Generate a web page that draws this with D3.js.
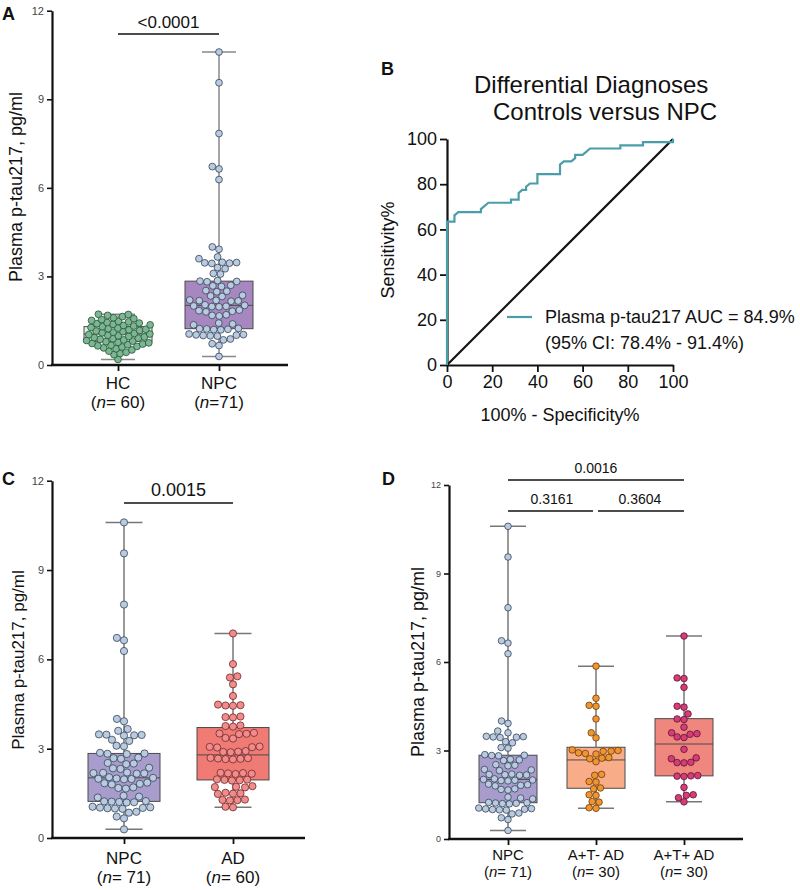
<!DOCTYPE html>
<html><head><meta charset="utf-8">
<script src="https://cdn.jsdelivr.net/npm/d3@7"></script>
<style>body{margin:0;background:#fff;} svg{font-family:Arial,"Liberation Sans",sans-serif;}</style>
</head><body><svg id="c" width="800" height="890"></svg>
<script>
// ---------------- data ----------------
const hcValues = [0.19,0.35,0.39,0.43,0.47,0.51,0.55,0.58,
  0.61,0.63,0.65,0.67,0.69,0.71,0.73,0.75,0.77,0.79,0.81,0.83,0.85,0.87,0.89,0.91,
  0.93,0.95,0.97,0.99,1.01,1.03,1.05,1.07,1.09,1.11,1.13,1.15,1.17,1.19,1.21,1.23,
  1.25,1.27,1.30,1.32,1.34,1.36,1.38,1.40,1.42,1.44,1.46,1.48,1.51,1.54,1.57,1.60,
  1.64,1.68,1.71,1.72];
const npcValues = [10.60,9.56,7.84,6.72,6.64,6.28,4.00,3.92,3.66,3.60,3.48,3.47,3.46,3.45,3.44,3.30,3.26,3.10,3.08,
  2.86,2.84,2.83,2.82,2.70,2.68,2.66,2.52,2.50,2.48,2.36,2.34,2.32,2.20,2.19,2.18,2.17,2.16,
  2.04,2.02,2.00,1.99,1.98,1.97,1.86,1.84,1.82,1.80,1.70,1.68,1.66,1.42,1.39,1.36,
  1.24,1.23,1.22,1.21,1.20,1.19,1.05,1.03,1.02,1.01,1.00,0.99,0.98,0.88,0.85,0.72,0.66,0.29];
const adValues = [6.87,5.84,5.43,5.39,5.16,4.77,4.48,4.46,4.45,4.44,
  4.08,4.06,4.05,3.78,3.76,3.74,3.53,3.51,3.50,3.49,3.36,3.34,
  3.07,3.06,3.05,3.04,2.92,2.90,2.89,2.88,2.69,2.68,2.67,2.66,2.65,2.64,
  2.19,2.18,2.17,2.16,2.15,1.97,1.96,1.95,1.94,1.93,1.74,1.72,1.71,1.70,
  1.52,1.50,1.49,1.48,1.29,1.28,1.27,1.26,1.05,1.03];
const atNegValues = [5.86,4.77,4.53,4.50,4.07,3.60,3.43,3.02,3.00,2.98,2.97,2.92,2.90,2.88,2.76,2.74,2.72,2.62,
  2.19,2.16,1.95,1.93,1.73,1.70,1.50,1.48,1.27,1.25,1.06,1.04];
const atPosValues = [6.88,5.46,5.44,5.14,4.50,4.47,4.24,4.07,4.05,3.79,3.60,3.57,3.55,3.46,3.44,
  3.04,2.75,2.72,2.60,2.59,2.58,2.15,2.14,2.13,2.12,1.75,1.50,1.48,1.40,1.26];
// box stats: [min, q1, median, q3, max]
const boxHC = [0.19,0.80,1.05,1.30,1.72];
const boxNPC = [0.29,1.23,2.02,2.84,10.60];
const boxAD = [1.03,1.95,2.79,3.71,6.87];
const boxATneg = [1.04,1.72,2.68,3.11,5.86];
const boxATpos = [1.26,2.14,3.22,4.08,6.88];
const yTicks = [0,3,6,9,12];
// ROC curve vertices (100% - specificity, sensitivity)
const rocFpr = [0,0,3.3,3.3,5,15,15,18.3,28.3,28.3,31.7,31.7,33.3,35,35,36.7,40,40,50,50,51.7,55,56.7,56.7,60,61.7,63.3,76.7,76.7,86.7,86.7,100,100];
const rocTpr = [0,63.4,63.4,66.2,67.6,67.6,69,71.8,71.8,73.2,73.2,76.1,77.5,77.5,78.9,80.3,80.3,84.5,84.5,88.7,90.1,90.1,91.5,93,93,94.4,95.8,95.8,97.2,97.2,98.6,98.6,100];
const rocTicks = [0,20,40,60,80,100];

const svg = d3.select("#c");

function swarm(values, y, r, gap){
  const D = 2*r+gap;
  const pts = values.map(v=>({v, py:y(v)})).sort((a,b)=>b.py-a.py);
  const placed=[];
  for(const p of pts){
    const iv=[];
    for(const q of placed){
      const dy=Math.abs(q.py-p.py);
      if(dy<D){ const w=Math.sqrt(D*D-dy*dy); iv.push([q.dx-w,q.dx+w]); }
    }
    const c=[0]; iv.forEach(([a,b])=>c.push(a,b));
    c.sort((a,b)=>Math.abs(a)-Math.abs(b)||a-b);
    let best=0;
    for(const x of c){ if(iv.every(([a,b])=>x<=a+1e-6||x>=b-1e-6)){best=x;break;} }
    p.dx=best; placed.push(p);
  }
  return pts;
}

function catLabel(g, x, y1, y2, name, n, fs){
  g.append("text").attr("x",x).attr("y",y1).attr("text-anchor","middle").attr("font-size",fs).attr("fill","#111").text(name);
  const t=g.append("text").attr("x",x).attr("y",y2).attr("text-anchor","middle").attr("font-size",fs).attr("fill","#111");
  t.append("tspan").text("(");
  t.append("tspan").attr("font-style","italic").text("n");
  t.append("tspan").text(n+")");
}

function boxPanel(o){
  const g=svg.append("g");
  const y=d3.scaleLinear().domain([0,12]).range([o.yBottom,o.yTop]);
  const x=d3.scalePoint().domain(o.cats).range(o.centers);
  const ya=g.append("g").attr("transform",`translate(${o.axX},0)`).call(d3.axisLeft(y).tickValues(yTicks).tickSize(5).tickSizeOuter(0));
  ya.select(".domain").attr("stroke","#111").attr("stroke-width",2.2);
  ya.selectAll(".tick line").attr("stroke","#111").attr("stroke-width",1.6);
  ya.selectAll(".tick text").attr("font-size",o.tickFs).attr("fill","#444").attr("font-family","Arial");
  const xa=g.append("g").attr("transform",`translate(0,${o.yBottom})`).call(d3.axisBottom(x).tickSize(6).tickFormat(""));
  xa.select(".domain").remove();
  xa.selectAll(".tick line").attr("stroke","#111").attr("stroke-width",1.8);
  g.append("line").attr("x1",o.axX-1).attr("x2",o.axEnd).attr("y1",o.yBottom).attr("y2",o.yBottom).attr("stroke","#111").attr("stroke-width",2.4);
  g.append("text").attr("transform",`translate(${o.titleX},${o.titleY}) rotate(-90)`).attr("text-anchor","middle")
   .attr("font-size",o.titleFs).attr("fill","#111").text("Plasma p-tau217, pg/ml");
  o.groups.forEach((gr,i)=>{
    const cx=x(o.cats[i]); const b=gr.box; const bw=o.boxW, cw=o.capW;
    g.append("rect").attr("x",cx-bw/2).attr("y",y(b[3])).attr("width",bw).attr("height",y(b[1])-y(b[3]))
      .attr("fill",gr.boxFill).attr("stroke","#4a4a4a").attr("stroke-width",1);
    g.append("line").attr("x1",cx).attr("x2",cx).attr("y1",y(b[0])).attr("y2",y(b[1])).attr("stroke",o.whisk).attr("stroke-width",1.5);
    g.append("line").attr("x1",cx).attr("x2",cx).attr("y1",y(b[3])).attr("y2",y(b[4])).attr("stroke",o.whisk).attr("stroke-width",1.5);
    [b[0],b[4]].forEach(v=>g.append("line").attr("x1",cx-cw/2).attr("x2",cx+cw/2).attr("y1",y(v)).attr("y2",y(v)).attr("stroke",o.whisk).attr("stroke-width",1.5));
    g.append("line").attr("x1",cx-bw/2).attr("x2",cx+bw/2).attr("y1",y(b[2])).attr("y2",y(b[2])).attr("stroke","#4a4a4a").attr("stroke-width",1);
    const pts=swarm(gr.values,y,o.r,gr.gap!==undefined?gr.gap:0.3);
    g.selectAll(null).data(pts).enter().append("circle").attr("cx",d=>cx+d.dx).attr("cy",d=>d.py).attr("r",o.r)
      .attr("fill",gr.fill).attr("stroke",gr.stroke).attr("stroke-width",0.8);
    catLabel(g,cx,o.lab1,o.lab2,o.cats[i],gr.n,o.catFs);
  });
  o.sig.forEach(s=>{
    g.append("line").attr("x1",x(o.cats[s.a])+(s.dx1||0)).attr("x2",x(o.cats[s.b])+(s.dx||0)).attr("y1",s.y).attr("y2",s.y).attr("stroke","#111").attr("stroke-width",1.6);
    g.append("text").attr("x",(x(o.cats[s.a])+x(o.cats[s.b]))/2).attr("y",s.ty).attr("text-anchor","middle").attr("font-size",s.fs).attr("fill","#111").text(s.text);
  });
  g.append("text").attr("x",o.letterX).attr("y",o.letterY).attr("font-size",18).attr("font-weight","bold").attr("fill","#111").text(o.letter);
}

const cHC="#7ab893", sHC="#2d4f38";
const cNPC="#b7cbe3", sNPC="#3b4352";

boxPanel({letter:"A",letterX:2,letterY:20,axX:52,axEnd:288,yTop:10.7,yBottom:365,cats:["HC","NPC"],centers:[118,219],
  r:3.4,boxW:68,capW:34,tickFs:11,titleFs:18,titleX:22,titleY:187,catFs:17,lab1:389,lab2:408,whisk:"#888",
  groups:[{values:hcValues,box:boxHC,fill:cHC,stroke:sHC,boxFill:"#dcefe2",n:"= 60",gap:-0.6},
          {values:npcValues,box:boxNPC,fill:cNPC,stroke:sNPC,boxFill:"#a687c0",n:"=71"}],
  sig:[{a:0,b:1,y:34,ty:28,text:"<0.0001",fs:17}]});

boxPanel({letter:"C",letterX:2,letterY:485,axX:52,axEnd:305,yTop:480.7,yBottom:838,cats:["NPC","AD"],centers:[124,233],
  r:3.6,boxW:72,capW:37,tickFs:11,titleFs:17,titleX:24,titleY:660,catFs:17,lab1:864,lab2:883,whisk:"#777",
  groups:[{values:npcValues,box:boxNPC,fill:cNPC,stroke:sNPC,boxFill:"#a89ccd",n:"= 71"},
          {values:adValues,box:boxAD,fill:"#f28b8b",stroke:"#6e2a2a",boxFill:"#f07a74",n:"= 60"}],
  sig:[{a:0,b:1,y:503,ty:496,text:"0.0015",fs:18}]});

boxPanel({letter:"D",letterX:382,letterY:485,axX:449,axEnd:743,yTop:485,yBottom:839,cats:["NPC","A+T- AD","A+T+ AD"],centers:[508,684],
  r:3.3,boxW:58,capW:36,tickFs:9,titleFs:18,titleX:424,titleY:662,catFs:15,lab1:860,lab2:877,whisk:"#777",
  groups:[{values:npcValues,box:boxNPC,fill:cNPC,stroke:sNPC,boxFill:"#a89ccd",n:"= 71"},
          {values:atNegValues,box:boxATneg,fill:"#f0952f",stroke:"#6b3c10",boxFill:"#f8ad88",n:"= 30"},
          {values:atPosValues,box:boxATpos,fill:"#d63d78",stroke:"#5a1530",boxFill:"#f0877f",n:"= 30"}],
  sig:[{a:0,b:2,y:480,ty:473,text:"0.0016",fs:14},{a:0,b:1,y:511,ty:504,text:"0.3161",fs:14,dx:-3},{a:1,b:2,y:511,ty:504,text:"0.3604",fs:14,dx1:2}]});

// ---------------- ROC panel B ----------------
(function(){
  const g=svg.append("g");
  const x=d3.scaleLinear().domain([0,100]).range([447,673]);
  const y=d3.scaleLinear().domain([0,100]).range([365,139]);
  const ya=g.append("g").attr("transform","translate(447,0)").call(d3.axisLeft(y).tickValues(rocTicks).tickSize(7).tickSizeOuter(0));
  const xa=g.append("g").attr("transform","translate(0,365)").call(d3.axisBottom(x).tickValues(rocTicks).tickSize(7).tickSizeOuter(0));
  [ya,xa].forEach(a=>{a.select(".domain").attr("stroke","#111").attr("stroke-width",2.2);
    a.selectAll(".tick line").attr("stroke","#111").attr("stroke-width",1.8);
    a.selectAll(".tick text").attr("font-size",18).attr("fill","#111").attr("font-family","Arial");});
  g.append("line").attr("x1",x(0)).attr("y1",y(0)).attr("x2",x(100)).attr("y2",y(100)).attr("stroke","#111").attr("stroke-width",2.2);
  const pts=rocFpr.map((f,i)=>[f,rocTpr[i]]);
  g.append("path").attr("d",d3.line().x(d=>x(d[0])).y(d=>y(d[1]))(pts)).attr("fill","none").attr("stroke","#4a9ea8").attr("stroke-width",2.2);
  g.append("text").attr("x",474).attr("y",93).attr("font-size",24).attr("fill","#111").text("Differential Diagnoses");
  g.append("text").attr("x",493).attr("y",120).attr("font-size",24).attr("fill","#111").text("Controls versus NPC");
  g.append("text").attr("transform","translate(394,250) rotate(-90)").attr("text-anchor","middle").attr("font-size",18).attr("fill","#111").text("Sensitivity%");
  g.append("text").attr("x",560).attr("y",421).attr("text-anchor","middle").attr("font-size",18).attr("fill","#111").text("100% - Specificity%");
  g.append("line").attr("x1",507).attr("x2",532).attr("y1",317).attr("y2",317).attr("stroke","#4a9ea8").attr("stroke-width",2.2);
  g.append("text").attr("x",545).attr("y",323).attr("font-size",18).attr("fill","#111").text("Plasma p-tau217 AUC = 84.9%");
  g.append("text").attr("x",545).attr("y",349).attr("font-size",18).attr("fill","#111").text("(95% CI: 78.4% - 91.4%)");
  g.append("text").attr("x",381).attr("y",75).attr("font-size",18).attr("font-weight","bold").attr("fill","#111").text("B");
})();
</script></body></html>
